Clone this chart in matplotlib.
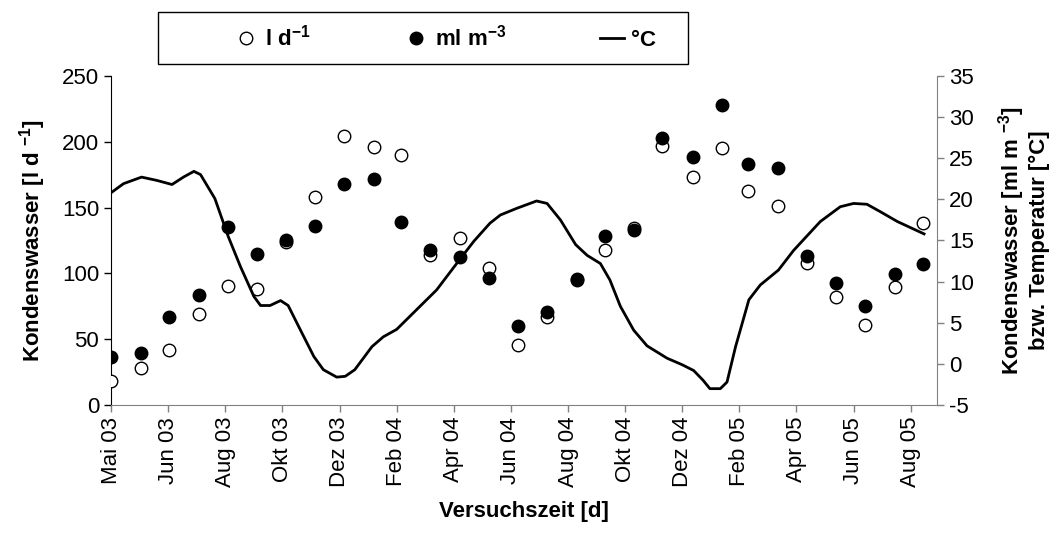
import matplotlib.pyplot as plt
from matplotlib.lines import Line2D
from matplotlib.patches import Rectangle

plt.rcParams['font.family'] = ['Liberation Sans', 'DejaVu Sans']
plt.rcParams['mathtext.fontset'] = 'custom'
plt.rcParams['mathtext.rm'] = 'Liberation Sans:bold'
plt.rcParams['mathtext.default'] = 'rm'
plt.rcParams['axes.unicode_minus'] = False

# Versuchstage der Messungen (ca. monatlich)
tage = [0, 31, 61, 92, 123, 153, 184, 214, 245, 276, 305, 335, 366, 397, 427,
        458, 489, 519, 549, 579, 611, 642, 669, 701, 731, 762, 792, 823, 853]

# Kondenswasser [l d-1] (linke Achse)
l_pro_tag = [18.5, 27.9, 41.6, 69.1, 90.7, 88.4, 124.0, 157.8, 204.7, 195.8,
             189.7, 114.2, 126.7, 104.1, 45.4, 66.6, 95.0, 117.8, 134.7, 196.8,
             173.5, 195.1, 162.8, 151.2, 107.7, 82.3, 60.6, 89.9, 138.1]

# Kondenswasser [ml m-3] (rechte Achse)
ml_pro_m3 = [0.8, 1.3, 5.7, 8.4, 16.6, 13.3, 15.0, 16.8, 21.9, 22.5,
             17.2, 13.8, 13.0, 10.5, 4.6, 6.3, 10.3, 15.5, 16.3, 27.4,
             25.2, 31.5, 24.3, 23.8, 13.1, 9.8, 7.0, 10.9, 12.1]

# Temperaturverlauf [°C] (rechte Achse)
temp_tage = [0, 13, 32, 48, 64, 76, 87, 94, 109, 123, 136, 150, 157, 167, 178,
             186, 199, 213, 223, 237, 246, 256, 274, 286, 300, 321, 342, 363,
             381, 398, 409, 426, 447, 458, 472, 488, 500, 514, 524, 535, 549,
             563, 584, 600, 612, 622, 629, 640, 647, 656, 670, 682, 701, 717,
             745, 766, 780, 794, 808, 826, 854]
temp = [20.8, 21.9, 22.7, 22.3, 21.8, 22.7, 23.4, 23.0, 20.1, 15.5, 11.8, 8.2,
        7.1, 7.1, 7.7, 7.1, 4.1, 0.9, -0.7, -1.6, -1.5, -0.7, 2.1, 3.3, 4.2,
        6.6, 9.0, 12.2, 14.9, 17.1, 18.1, 18.9, 19.8, 19.5, 17.5, 14.5, 13.2,
        12.2, 10.2, 7.0, 4.1, 2.2, 0.7, -0.1, -0.8, -2.0, -3.0, -3.0, -2.2,
        2.1, 7.8, 9.6, 11.4, 13.8, 17.3, 19.1, 19.5, 19.4, 18.5, 17.3, 15.8]

monate = ['Mai 03', 'Jun 03', 'Aug 03', 'Okt 03', 'Dez 03', 'Feb 04', 'Apr 04',
          'Jun 04', 'Aug 04', 'Okt 04', 'Dez 04', 'Feb 05', 'Apr 05', 'Jun 05',
          'Aug 05']

fig = plt.figure(figsize=(10.58, 5.38), dpi=100)
ax = fig.add_axes([0.105, 0.247, 0.781, 0.612])
ax2 = ax.twinx()

ax.plot(tage, l_pro_tag, 'o', markersize=9, markerfacecolor='white',
        markeredgecolor='black', markeredgewidth=1.0, zorder=3)
ax2.plot(temp_tage, temp, '-', color='black', linewidth=2)
ax2.plot(tage, ml_pro_m3, 'o', markersize=9, color='black', zorder=4)

ax.set_xlim(0, 868)
ax.set_ylim(0, 250)
ax2.set_ylim(-5, 35)
ax.set_xticks([i * 60 for i in range(len(monate))])
ax.set_xticklabels(monate, rotation=90)
ax.set_yticks(range(0, 251, 50))
ax2.set_yticks(range(-5, 36, 5))

fs = 16
ax.tick_params(axis='both', labelsize=fs, length=5, direction='out', width=1)
ax2.tick_params(axis='y', labelsize=fs, length=5, direction='out', width=1,
                color='#808080')
for a in (ax, ax2):
    a.spines['top'].set_visible(False)
ax.spines['right'].set_visible(False)
ax2.spines['left'].set_visible(False)
ax2.spines['bottom'].set_visible(False)
ax2.spines['right'].set_color('#808080')
ax.spines['bottom'].set_color('#808080')
ax.tick_params(axis='x', color='#808080')

ax.set_xlabel('Versuchszeit [d]', fontsize=fs, fontweight='bold', labelpad=10)
ax.set_ylabel('Kondenswasser [l d $^{-1}$]', fontsize=fs, fontweight='bold',
              labelpad=10)
ax2.set_ylabel('Kondenswasser [ml m $^{-3}$]\nbzw. Temperatur [°C]',
               fontsize=fs, fontweight='bold', labelpad=16, rotation=90,
               linespacing=1.1)

# Legendenrahmen
fig.patches.append(Rectangle((158 / 1058, 1 - 64 / 538), 530 / 1058, 52 / 538,
                             transform=fig.transFigure, fill=False,
                             edgecolor='black', linewidth=1))
handles = [
    Line2D([], [], marker='o', linestyle='none', markersize=9,
           markerfacecolor='white', markeredgecolor='black'),
    Line2D([], [], marker='o', linestyle='none', markersize=9, color='black'),
    Line2D([], [], color='black', linewidth=2),
]
labels = ['l d$^{-1}$', 'ml m$^{-3}$', '°C']
fig.legend(handles, labels, loc='center', ncol=3,
           bbox_to_anchor=(445 / 1058, 1 - 38 / 538),
           frameon=False, prop={'size': fs, 'weight': 'bold'},
           handlelength=1.1, handletextpad=0.3, columnspacing=4.2)

fig.savefig('out.png', dpi=100)
